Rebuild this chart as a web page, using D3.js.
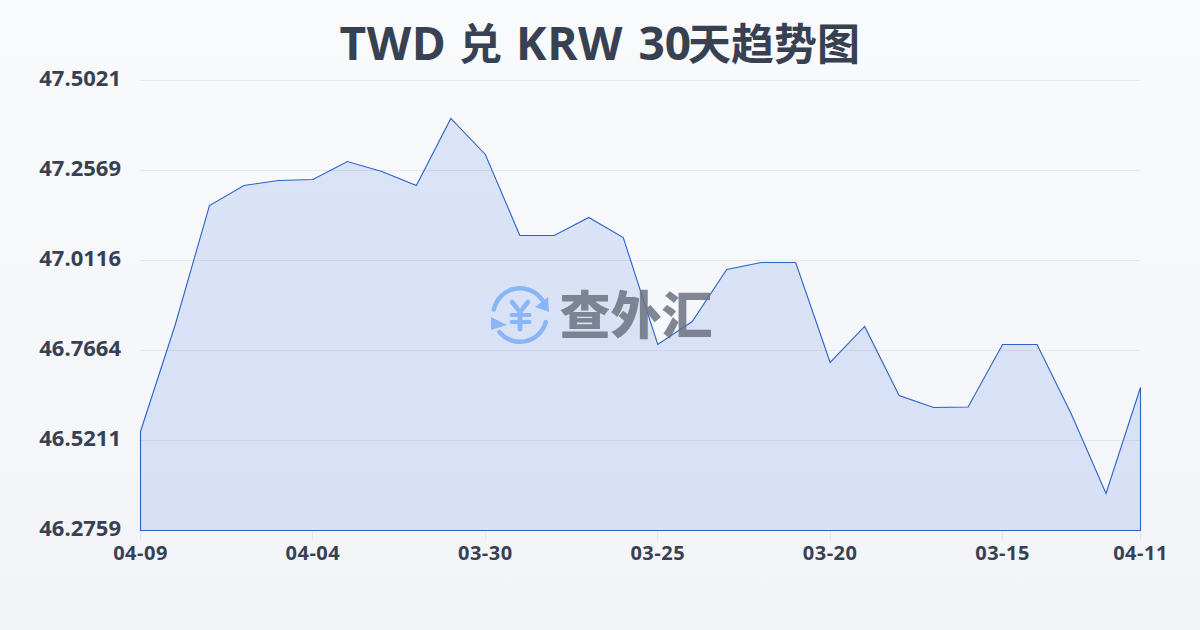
<!DOCTYPE html>
<html><head><meta charset="utf-8">
<script src="https://cdnjs.cloudflare.com/ajax/libs/d3/7.8.5/d3.min.js"></script>
<style>html,body{margin:0;padding:0;width:1200px;height:630px;overflow:hidden;background:#f8fafc}svg{display:block}</style>
</head><body><svg id="c" width="1200" height="630"></svg>
<script>
const titleRuns = ["TWD","兑","KRW","30","天趋势图"];
const dates = ["04-09","04-08","04-07","04-06","04-05","04-04","04-03","04-02","04-01","03-31","03-30","03-29","03-28","03-27","03-26","03-25","03-24","03-23","03-22","03-21","03-20","03-19","03-18","03-17","03-16","03-15","03-14","03-13","03-12","04-11"];
const rates = [46.5457,46.8345,47.1615,47.2160,47.2296,47.2323,47.2814,47.2541,47.2160,47.3986,47.3005,47.0797,47.0797,47.1288,47.0743,46.7827,46.8454,46.9871,47.0062,47.0062,46.7337,46.8318,46.6438,46.6111,46.6124,46.7827,46.7827,46.5920,46.3767,46.6656];
const yTicks = [46.2759,46.5211,46.7664,47.0116,47.2569,47.5021];
const xTickLabels = ["04-09","04-04","03-30","03-25","03-20","03-15","04-11"];
const watermarkText = "查外汇";

const svg = d3.select("#c");
const defs = svg.append("defs");
const bg = defs.append("linearGradient").attr("id","bg").attr("x1",0).attr("y1",0).attr("x2",0).attr("y2",1);
bg.append("stop").attr("offset",0).attr("stop-color","#f8fafc");
bg.append("stop").attr("offset",1).attr("stop-color","#f2f4f7");
svg.append("rect").attr("width",1200).attr("height",630).attr("fill","url(#bg)");

const font = "'Open Sans','Noto Sans CJK SC',sans-serif";
const ink = "#374151";
const title = svg.append("text").attr("y",60).attr("font-family",font).attr("font-weight",700).attr("fill",ink);
const runX = [339.5,459,516,638.5,688];
title.selectAll("tspan").data(titleRuns).join("tspan")
  .attr("x",(d,i)=>runX[i])
  .attr("font-size",(d,i)=> i===1 || i===4 ? 43 : 46)
  .attr("letter-spacing",(d,i)=> i===0||i===2 ? 0.6 : 0)
  .text(d=>d);

const x = d3.scalePoint().domain(d3.range(dates.length)).range([140.5,1140.5]);
const y = d3.scaleLinear().domain([yTicks[0],yTicks[yTicks.length-1]]).range([530.5,80.5]);

svg.append("g").selectAll("line").data(yTicks).join("line")
  .attr("x1",140).attr("x2",1140).attr("y1",d=>Math.floor(y(d))+.5).attr("y2",d=>Math.floor(y(d))+.5)
  .attr("stroke","#e5e7eb").attr("stroke-width",1);

svg.append("g").selectAll("text").data(yTicks).join("text")
  .attr("x",121).attr("y",d=>y(d)+5.5).attr("text-anchor","end")
  .attr("font-family",font).attr("font-size",22).attr("font-weight",700).attr("fill",ink)
  .text(d=>d.toFixed(4));

const tickIdx = xTickLabels.map((_,i)=> i<6 ? i*5 : 29);
svg.append("g").selectAll("line").data(tickIdx).join("line")
  .attr("x1",d=>Math.floor(x(d))+.5).attr("x2",d=>Math.floor(x(d))+.5).attr("y1",531).attr("y2",541)
  .attr("stroke","#e5e7eb");
svg.append("g").selectAll("text").data(tickIdx).join("text")
  .attr("x",d=>x(d)).attr("y",560).attr("text-anchor","middle")
  .attr("font-family",font).attr("font-size",20).attr("font-weight",700).attr("letter-spacing",0.5).attr("fill",ink)
  .text((d,i)=>xTickLabels[i]);

const area = d3.area().x((d,i)=>x(i)).y0(y(yTicks[0])).y1(d=>y(d));
svg.append("path").datum(rates).attr("d",area)
  .attr("fill","#2f62e0").attr("fill-opacity",.14)
  .attr("stroke","#2b62c8").attr("stroke-width",1.1).attr("stroke-linejoin","miter");

const w = svg.append("g");
const ic = w.append("g").attr("transform","translate(520,315)");
const blue = "#8ab6f8";
const arc1 = d3.arc().innerRadius(24.5).outerRadius(29).cornerRadius(2.2).startAngle(-1.45).endAngle(1.05);
const arc2 = d3.arc().innerRadius(24.5).outerRadius(29).cornerRadius(2.2).startAngle(1.75).endAngle(4.1);
ic.append("path").attr("d",arc1()).attr("fill",blue);
ic.append("path").attr("d",arc2()).attr("fill",blue);
ic.append("path").attr("d",d3.line()([[28,-18],[29,-3],[15,-8]])).attr("fill",blue);
ic.append("path").attr("d",d3.line()([[-29,2],[-29,15],[-13,10]])).attr("fill",blue);
ic.append("path").attr("d",d3.line()([[-8,-13],[0,-3],[8,-13]])).attr("fill","none").attr("stroke",blue).attr("stroke-width",4.5).attr("stroke-linecap","round");
ic.append("path").attr("d",d3.line()([[0,-3],[0,14]])).attr("stroke",blue).attr("stroke-width",5).attr("stroke-linecap","round");
ic.append("path").attr("d",d3.line()([[-8.5,0],[9.5,0]])).attr("stroke",blue).attr("stroke-width",4).attr("stroke-linecap","round");
ic.append("path").attr("d",d3.line()([[-8.5,7],[9.5,7]])).attr("stroke",blue).attr("stroke-width",4).attr("stroke-linecap","round");
w.append("text").attr("x",559.5).attr("y",334).attr("font-family","'Noto Sans CJK SC',sans-serif")
  .attr("font-size",51).attr("font-weight",900).attr("fill","#6b7280").attr("fill-opacity",.85).text(watermarkText);
</script></body></html>
